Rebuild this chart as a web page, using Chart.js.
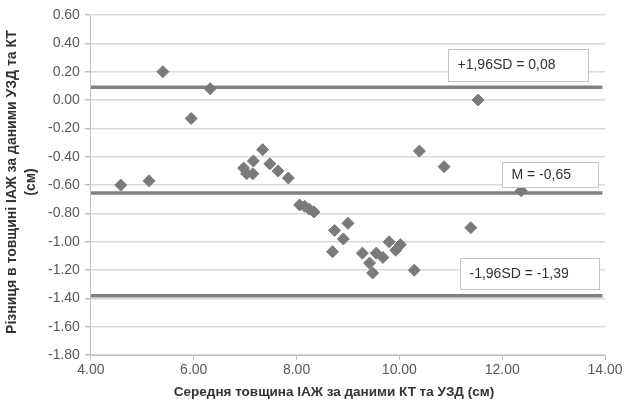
<!DOCTYPE html>
<html>
<head>
<meta charset="utf-8">
<script src="https://cdn.jsdelivr.net/npm/chart.js@4/dist/chart.umd.min.js"></script>
<style>
  html, body { margin: 0; padding: 0; background: #fff; }
  #wrap { width: 625px; height: 403px; position: relative; }
</style>
</head>
<body>
<div id="wrap"><canvas id="c" width="625" height="403"></canvas></div>
<script>
// ---- data ----
const meanThickness = [4.58, 5.13, 5.40, 5.95, 6.32, 6.97, 7.03, 7.15, 7.16, 7.34, 7.48, 7.64, 7.84,
  8.06, 8.16, 8.25, 8.34, 8.70, 8.74, 8.91, 9.00, 9.28, 9.42, 9.48, 9.55, 9.68, 9.80, 9.93, 10.02,
  10.29, 10.39, 10.87, 11.39, 11.53, 12.37];
const difference = [-0.60, -0.57, 0.20, -0.13, 0.08, -0.48, -0.52, -0.52, -0.43, -0.35, -0.45, -0.50, -0.55,
  -0.74, -0.75, -0.77, -0.79, -1.07, -0.92, -0.98, -0.87, -1.08, -1.15, -1.22, -1.08, -1.11, -1.00, -1.06, -1.02,
  -1.20, -0.36, -0.47, -0.90, 0.00, -0.64];
const limitNames = ['upper', 'mean', 'lower'];
const limitValues = [0.09, -0.655, -1.38];
const limitLabels = ['+1,96SD = 0,08', 'M = -0,65', '-1,96SD = -1,39'];
const lineXRange = [4.0, 13.95];
const xTicks = [4, 6, 8, 10, 12, 14];
const yTicks = [0.6, 0.4, 0.2, 0.0, -0.2, -0.4, -0.6, -0.8, -1.0, -1.2, -1.4, -1.6, -1.8];
const xTitle = 'Середня товщина ІАЖ за даними КТ та УЗД (см)';
const yTitleLines = ['Різниця в товщині ІАЖ за даними УЗД та КТ', '(см)'];

// label boxes in data units: [xLeft, xRight, yTop, yBottom]
const labelBoxes = [
  [10.955, 13.66, 0.361, 0.137],
  [12.0, 13.87, -0.437, -0.61],
  [11.18, 13.89, -1.116, -1.335]
];

const points = meanThickness.map((x, i) => ({ x: x, y: difference[i] }));
const limitDatasets = limitValues.map((v, i) => ({
  type: 'line',
  label: limitNames[i],
  data: [{ x: lineXRange[0], y: v }, { x: lineXRange[1], y: v }],
  borderColor: '#808080',
  borderWidth: 3.5,
  pointRadius: 0,
  fill: false,
  order: 2
}));

const FONT = '"Liberation Sans", Arial, sans-serif';

const overlay = {
  id: 'overlay',
  afterDatasetsDraw(chart) {
    const ctx = chart.ctx;
    const xs = chart.scales.x, ys = chart.scales.y;
    ctx.save();
    labelBoxes.forEach((b, i) => {
      const l = Math.round(xs.getPixelForValue(b[0])) + 0.5;
      const r = Math.round(xs.getPixelForValue(b[1])) + 0.5;
      const t = Math.round(ys.getPixelForValue(b[2])) + 0.5;
      const bt = Math.round(ys.getPixelForValue(b[3])) + 0.5;
      ctx.fillStyle = '#ffffff';
      ctx.fillRect(l, t, r - l, bt - t);
      ctx.strokeStyle = '#c4c4c4';
      ctx.lineWidth = 1;
      ctx.strokeRect(l, t, r - l, bt - t);
      ctx.fillStyle = '#333333';
      ctx.font = '14px ' + FONT;
      ctx.textAlign = 'left';
      ctx.textBaseline = 'middle';
      ctx.fillText(limitLabels[i], l + 9, (t + bt) / 2);
    });
    ctx.restore();
  },
  afterDraw(chart) {
    const ctx = chart.ctx;
    ctx.save();
    ctx.fillStyle = '#333333';
    ctx.textAlign = 'center';
    ctx.textBaseline = 'middle';
    ctx.font = 'bold 13.5px ' + FONT;
    ctx.fillText(xTitle, 334, 392);
    ctx.translate(0, 182);
    ctx.rotate(-Math.PI / 2);
    ctx.font = 'bold 14px ' + FONT;
    ctx.fillText(yTitleLines[0], 0, 12);
    ctx.fillText(yTitleLines[1], 0, 31);
    ctx.restore();
  }
};

new Chart(document.getElementById('c'), {
  type: 'scatter',
  data: {
    datasets: [{
      label: 'diff',
      data: points,
      pointStyle: 'rectRot',
      pointRadius: 6,
      pointHoverRadius: 6,
      backgroundColor: '#7a7a7a',
      borderColor: '#7a7a7a',
      borderWidth: 1,
      order: 1
    }].concat(limitDatasets)
  },
  options: {
    responsive: false,
    animation: false,
    events: [],
    layout: { padding: { left: 43, right: 20, top: 15, bottom: 22 } },
    plugins: { legend: { display: false }, tooltip: { enabled: false } },
    scales: {
      x: {
        type: 'linear',
        min: xTicks[0], max: xTicks[xTicks.length - 1],
        afterBuildTicks(s) { s.ticks = xTicks.map(v => ({ value: v })); },
        ticks: {
          callback: v => Number(v).toFixed(2),
          color: '#595959', font: { family: FONT, size: 14 }, padding: 2, maxRotation: 0
        },
        grid: { color: 'rgba(0,0,0,0)', tickColor: '#bfbfbf', tickLength: 5, drawOnChartArea: false },
        border: { color: '#bfbfbf', width: 1 }
      },
      y: {
        type: 'linear',
        min: yTicks[yTicks.length - 1], max: yTicks[0],
        afterBuildTicks(s) { s.ticks = yTicks.slice().reverse().map(v => ({ value: v })); },
        ticks: {
          callback: v => Number(v).toFixed(2),
          color: '#595959', font: { family: FONT, size: 14 }, padding: 5
        },
        grid: { color: '#d9d9d9', lineWidth: 1.5, tickColor: '#bfbfbf', tickLength: 6 },
        border: { color: '#bfbfbf', width: 1 }
      }
    }
  },
  plugins: [overlay]
});
</script>
</body>
</html>
